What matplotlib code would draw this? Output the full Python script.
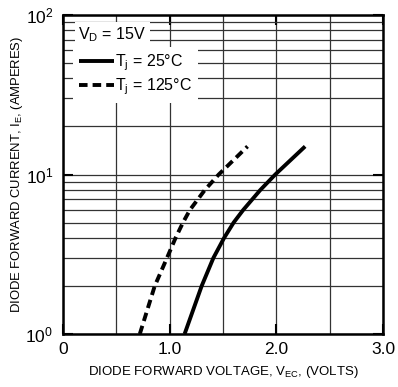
import matplotlib
matplotlib.use("Agg")
import matplotlib.pyplot as plt
from matplotlib.ticker import FixedLocator, MultipleLocator, NullFormatter

plt.rcParams["font.family"] = ["Liberation Sans", "DejaVu Sans"]
plt.rcParams["mathtext.fontset"] = "custom"
plt.rcParams["mathtext.rm"] = "Liberation Sans"
plt.rcParams["mathtext.it"] = "Liberation Sans"

# 数据 (读自图中)
v_25 = [1.14, 1.30, 1.41, 1.51, 1.60, 1.69, 1.85, 1.99, 2.27]
i_25 = [1.0, 2.0, 3.0, 4.0, 5.0, 6.0, 8.0, 10.0, 15.0]

v_125 = [0.72, 0.86, 0.975, 1.055, 1.125, 1.19, 1.33, 1.46, 1.73]
i_125 = [1.0, 2.0, 3.0, 4.0, 5.0, 6.0, 8.0, 10.0, 15.0]

x_ticks = [0, 1, 2, 3]
x_labels = ["0", "1.0", "2.0", "3.0"]
y_ticks = [1, 10, 100]
y_labels = [r"$\mathregular{10^0}$", r"$\mathregular{10^1}$", r"$\mathregular{10^2}$"]

fig = plt.figure(figsize=(3.98, 3.87), dpi=100)
ax = fig.add_axes([63 / 398, 53 / 387, 320 / 398, 319 / 387])

ax.set_yscale("log")
ax.set_xlim(0, 3)
ax.set_ylim(1, 100)

ax.plot(v_25, i_25, color="black", lw=2.8, solid_capstyle="butt",
        solid_joinstyle="round", label=r"$\mathregular{T_j}$ = 25°C", zorder=3)
ax.plot(v_125, i_125, color="black", lw=2.8, ls=(0, (2.2, 1.3)),
        label=r"$\mathregular{T_j}$ = 125°C", zorder=3)

# 网格
ax.xaxis.set_major_locator(FixedLocator(x_ticks))
ax.xaxis.set_minor_locator(MultipleLocator(0.5))
ax.set_xticklabels(x_labels)
ax.yaxis.set_major_locator(FixedLocator(y_ticks))
ax.set_yticklabels(y_labels)
ax.yaxis.set_minor_formatter(NullFormatter())
ax.grid(which="both", color="#333333", lw=0.9)
ax.set_axisbelow(True)

ax.tick_params(which="major", direction="in", length=7, width=1.5,
               top=True, right=True, labelsize=12.5, pad=6, colors="black")
ax.tick_params(which="minor", length=0)
ax.tick_params(axis="y", pad=7)

for s in ax.spines.values():
    s.set_linewidth(1.8)

ax.set_xlabel(r"DIODE FORWARD VOLTAGE, V$\mathregular{_{EC}}$, (VOLTS)",
              fontsize=9.5)
ax.set_ylabel(r"DIODE FORWARD CURRENT, I$\mathregular{_E}$, (AMPERES)",
              fontsize=9.4)
ax.xaxis.set_label_coords(0.5, -0.12)
ax.yaxis.set_label_coords(-0.143, 0.5)
ax.xaxis.label.set_va("center")
ax.yaxis.label.set_va("center")

# 图例
leg = ax.legend(loc="center left", bbox_to_anchor=(0.031, 0.813),
                fontsize=11.5, frameon=True, fancybox=False, framealpha=1,
                edgecolor="white", handlelength=2.2, handletextpad=0.1,
                borderpad=0.35, borderaxespad=0, labelspacing=0.22)
leg.get_frame().set_linewidth(0)

ax.text(0.047, 0.938, r"V$\mathregular{_D}$ = 15V", transform=ax.transAxes,
        fontsize=11.5, va="center", ha="left", zorder=4,
        bbox=dict(facecolor="white", edgecolor="none", pad=2.5))

fig.savefig("out.png", dpi=100)
